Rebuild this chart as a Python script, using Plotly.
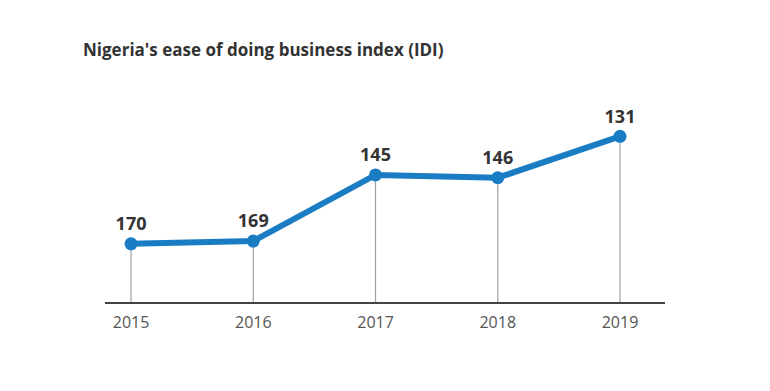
import plotly.graph_objects as go

years = [2015, 2016, 2017, 2018, 2019]
ranks = [170, 169, 145, 146, 131]
labels = ["170", "169", "145", "146", "131"]
tick_labels = ["2015", "2016", "2017", "2018", "2019"]
title = "Nigeria's ease of doing business index (IDI)"

y_bottom = 191.1
y_top = 103.3

drop_x, drop_y = [], []
for x, v in zip(years, ranks):
    drop_x += [x, x, None]
    drop_y += [v, y_bottom, None]

fig = go.Figure()
fig.add_trace(go.Scatter(x=drop_x, y=drop_y, mode="lines",
                         line=dict(color="#a0a0a0", width=1.2),
                         hoverinfo="skip", showlegend=False))
fig.add_trace(go.Scatter(x=years, y=ranks, mode="lines+markers+text",
                         text=["<b>" + t + "</b>" for t in labels],
                         textposition="top center",
                         textfont=dict(family="Open Sans", size=18, color="#333333"),
                         line=dict(color="#1a7dc4", width=6),
                         marker=dict(color="#1a7dc4", size=13),
                         showlegend=False))

fig.update_layout(
    width=770, height=391,
    margin=dict(l=97, r=113, t=52, b=97),
    paper_bgcolor="white", plot_bgcolor="white",
    font=dict(family="Open Sans", color="#444444"),
    title=dict(text="<b>" + title + "</b>", x=75/770, xanchor="left",
               y=1 - 42/391, yanchor="middle",
               font=dict(family="Open Sans", size=17, color="#333333")),
    xaxis=dict(range=[2014.787, 2019.368], tickmode="array", tickvals=years,
               ticktext=tick_labels, showgrid=False, zeroline=False,
               showline=True, linecolor="#444444", linewidth=1.5,
               ticks="", ticklabelstandoff=5,
               tickfont=dict(size=16, color="#555555"),
               fixedrange=True),
    yaxis=dict(range=[y_bottom, y_top], visible=False, showgrid=False,
               zeroline=False, fixedrange=True),
)

fig.write_html("out.html")
